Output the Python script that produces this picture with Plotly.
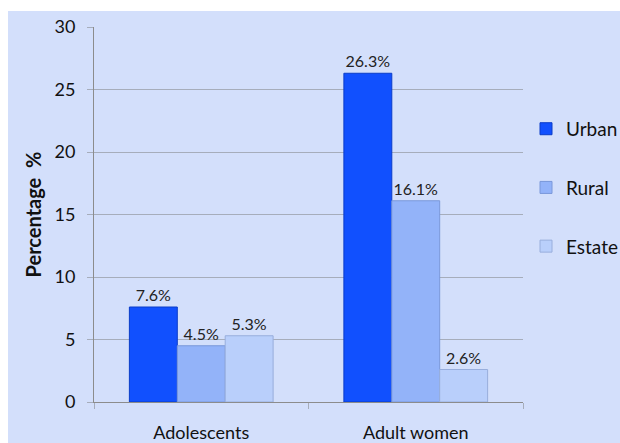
import plotly.graph_objects as go

# Prevalence by group and sector
categories = ["Adolescents", "Adult women"]
urban = [7.6, 26.3]
rural = [4.5, 16.1]
estate = [5.3, 2.6]

series = [
    ("Urban", urban, "#1150FE", "#0A3CC8"),
    ("Rural", rural, "#93B3F9", "#7A98DA"),
    ("Estate", estate, "#B9CFFB", "#98AEDC"),
]

FONT = "Lato, 'Open Sans', sans-serif"
BG = "#D3DFFB"

fig = go.Figure()
for name, vals, fill, edge in series:
    fig.add_trace(go.Bar(
        x=categories, y=vals, name=name,
        legendgroup=name,
        marker=dict(color=fill, line=dict(color=edge, width=1)),
        text=[f"{v:.1f}%" for v in vals],
        textposition="outside",
        textfont=dict(size=16, color="#222222", family=FONT),
        cliponaxis=False,
    ))

fig.update_layout(
    width=620, height=443,
    margin=dict(l=94, r=97, t=27, b=41, autoexpand=False),
    paper_bgcolor=BG, plot_bgcolor=BG,
    font=dict(family=FONT, size=18, color="#111111"),
    barmode="group", bargap=0.33, bargroupgap=0,
    showlegend=True,
    legend=dict(
        x=1.007, xanchor="left", y=0.571, yanchor="middle",
        font=dict(size=19, color="#111111"),
        tracegroupgap=31, itemwidth=30,
        bgcolor="rgba(0,0,0,0)",
    ),
    shapes=[
        # white frame strips along the top and left edge
        dict(type="rect", xref="paper", yref="paper",
             x0=-0.25, x1=1.3, y0=(402 - 11) / 375, y1=1.1,
             fillcolor="white", line=dict(width=0), layer="below"),
        dict(type="rect", xref="paper", yref="paper",
             x0=-0.25, x1=(8 - 94) / 429, y0=-0.2, y1=1.1,
             fillcolor="white", line=dict(width=0), layer="below"),
    ],
)

fig.update_yaxes(
    range=[0, 30], dtick=5, automargin=False,
    showgrid=True, gridcolor="#A6ADBB", gridwidth=1,
    showline=True, linecolor="#8C8C8C", linewidth=1,
    ticks="outside", ticklen=6, tickcolor="#A6ADBB",
    ticklabelstandoff=8,
    tickfont=dict(size=18, color="#111111"),
    zeroline=False,
    title=dict(text="<b>Percentage  %</b>", font=dict(size=20, color="#111111"), standoff=7),
)
fig.update_xaxes(
    automargin=False,
    showline=True, linecolor="#8C8C8C", linewidth=1,
    ticks="outside", ticklen=6, tickcolor="#A6ADBB",
    tickson="boundaries",
    ticklabelstandoff=14,
    tickfont=dict(size=18, color="#111111"),
)

fig.write_html("out.html")
